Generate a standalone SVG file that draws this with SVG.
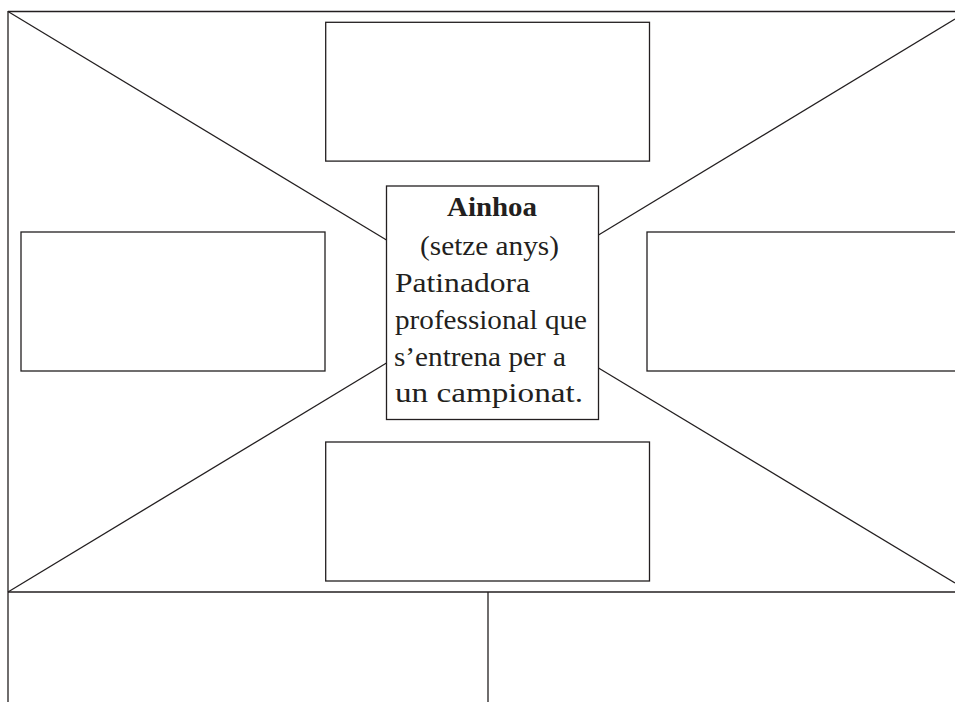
<svg xmlns="http://www.w3.org/2000/svg" width="955" height="702" viewBox="0 0 955 702">
<style>
.ln{stroke:#231f20;stroke-width:1.3;fill:none}
.bx{stroke:#231f20;stroke-width:1.3;fill:#fff}
.t{font-family:"Liberation Serif","Times New Roman",serif;font-size:27px;fill:#231f20}
.b{font-weight:bold}
</style>
<rect width="955" height="702" fill="#fff"/>
<g id="connectors">
<line class="ln" x1="8" y1="11.5" x2="955" y2="11.5"/>
<line class="ln" x1="8" y1="11" x2="8" y2="702"/>
<line class="ln" x1="8" y1="592" x2="955" y2="592"/>
<line class="ln" x1="488" y1="592" x2="488" y2="702"/>
<line class="ln" x1="8" y1="11.5" x2="386.5" y2="240"/>
<line class="ln" x1="598.5" y1="235" x2="955" y2="19"/>
<line class="ln" x1="8" y1="592" x2="386.5" y2="363"/>
<line class="ln" x1="598.5" y1="368" x2="955" y2="583"/>
</g>
<g id="top-box"><rect class="bx" x="325.7" y="22.3" width="323.8" height="138.8"/></g>
<g id="left-box"><rect class="bx" x="21" y="232" width="304" height="139"/></g>
<g id="right-box"><rect class="bx" x="647" y="232" width="320" height="139"/></g>
<g id="bottom-box"><rect class="bx" x="325.7" y="442" width="323.8" height="139"/></g>
<g id="center">
<rect class="bx" x="386.5" y="186" width="212" height="233.5"/>
<text class="t b" x="447" y="216" textLength="90" lengthAdjust="spacingAndGlyphs">Ainhoa</text>
<text class="t" x="420" y="255" textLength="139" lengthAdjust="spacingAndGlyphs">(setze anys)</text>
<text class="t" x="395" y="292" textLength="135" lengthAdjust="spacingAndGlyphs">Patinadora</text>
<text class="t" x="395" y="329" textLength="192" lengthAdjust="spacingAndGlyphs">professional que</text>
<text class="t" x="394" y="366" textLength="172" lengthAdjust="spacingAndGlyphs">s’entrena per a</text>
<text class="t" x="395" y="402" textLength="188" lengthAdjust="spacingAndGlyphs">un campionat.</text>
</g>
</svg>
